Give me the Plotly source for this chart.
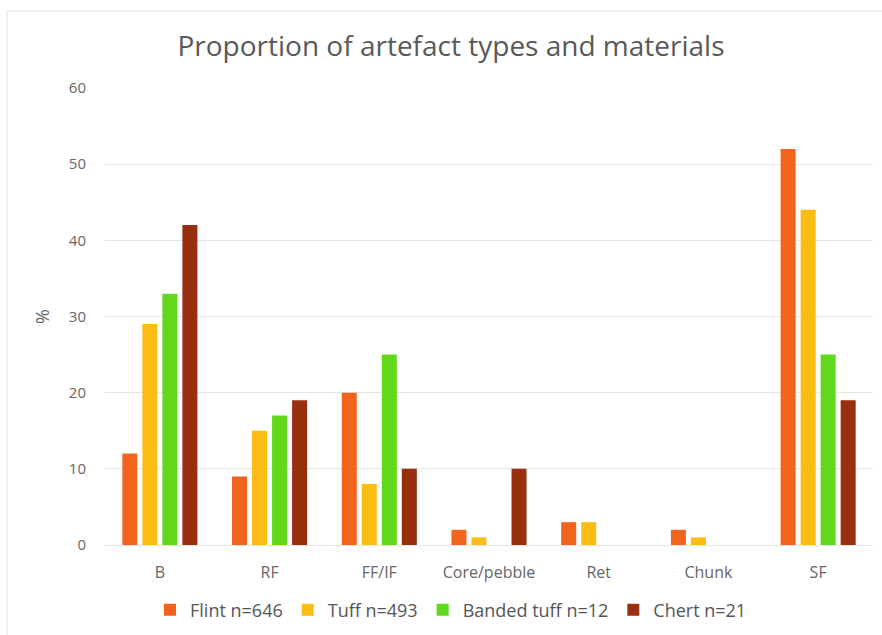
import plotly.graph_objects as go

categories = ["B", "RF", "FF/IF", "Core/pebble", "Ret", "Chunk", "SF"]
series_names = ["Flint n=646", "Tuff n=493", "Banded tuff n=12", "Chert n=21"]
flint = [12, 9, 20, 2, 3, 2, 52]
tuff = [29, 15, 8, 1, 3, 1, 44]
banded_tuff = [33, 17, 25, 0, 0, 0, 25]
chert = [42, 19, 10, 10, 0, 0, 19]
y_ticks = [0, 10, 20, 30, 40, 50, 60]

colors = ["#f2641e", "#fbbd14", "#62d81c", "#983010"]

fig = go.Figure()
for name, vals, col in zip(series_names, [flint, tuff, banded_tuff, chert], colors):
    fig.add_trace(go.Bar(x=categories, y=vals, name=name, marker_color=col,
                         marker_line_width=0))

W, H = 882, 635
L, R, T, B = 105, 9, 88, 90
pw, ph = W - L - R, H - T - B

def px(x):
    return (x - L) / pw

def py(y):
    return (H - B - y) / ph

font_family = "Open Sans, Lato, sans-serif"

fig.update_layout(
    width=W, height=H,
    margin=dict(l=L, r=R, t=T, b=B, autoexpand=False),
    paper_bgcolor="white", plot_bgcolor="white",
    barmode="group", bargap=0.27, bargroupgap=0.25,
    title=dict(text="Proportion of artefact types and materials",
               xref="container", x=451 / W, xanchor="center",
               y=1 - 46 / H, yanchor="middle",
               font=dict(family=font_family, size=28, color="#595959")),
    font=dict(family=font_family, size=14, color="#666666"),
    xaxis=dict(showgrid=False, showline=False, ticks="", ticklabelstandoff=16,
               tickfont=dict(size=16, color="#666666")),
    yaxis=dict(range=[0, 60], tickvals=y_ticks, showgrid=True,
               gridcolor="#e4e4e4", gridwidth=1, zeroline=True,
               zerolinecolor="#e4e4e4", zerolinewidth=1, ticks="",
               ticklabelstandoff=18,
               title=dict(text="%", standoff=14, font=dict(size=18, color="#666666")),
               tickfont=dict(size=15, color="#666666")),
    legend=dict(orientation="h", xref="container", yref="container",
                x=451 / W, xanchor="center", y=1 - 610 / H, yanchor="middle",
                font=dict(size=18, color="#555555"), itemwidth=30,
                traceorder="normal"),
    shapes=[
        dict(type="line", xref="paper", yref="paper", x0=px(7), x1=px(7),
             y0=py(11), y1=py(635), line=dict(color="#dfe6e6", width=1)),
        dict(type="line", xref="paper", yref="paper", x0=px(7), x1=px(882),
             y0=py(11), y1=py(11), line=dict(color="#dfe6e6", width=1)),
    ],
)

fig.write_html("out.html")
